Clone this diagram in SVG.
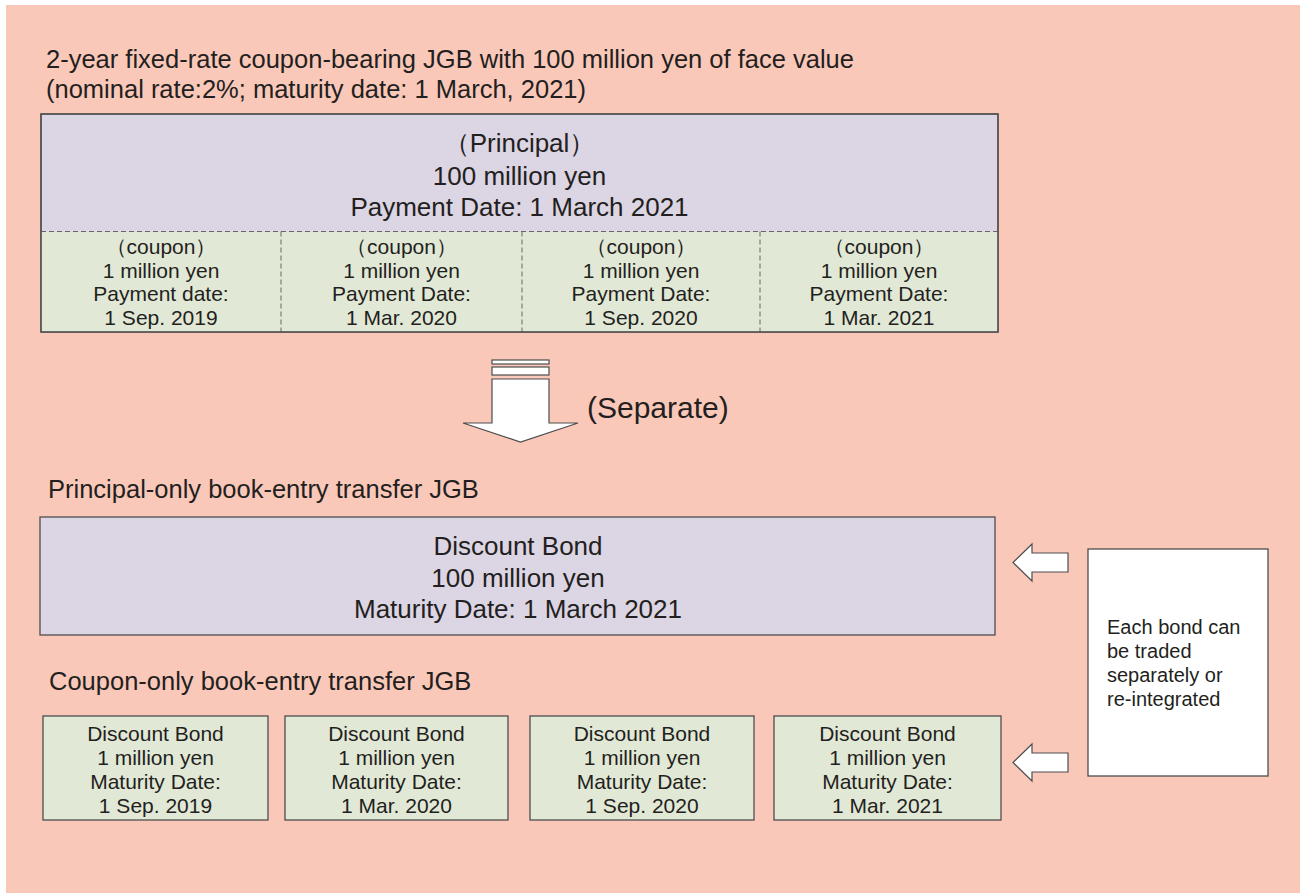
<svg xmlns="http://www.w3.org/2000/svg" width="1300" height="893" viewBox="0 0 1300 893">
<defs>
<style>
text{font-family:"Liberation Sans",Arial,sans-serif;fill:#231f20}
.c{text-anchor:middle}
.t25{font-size:25.5px}
.t26{font-size:26px}
.t21{font-size:21px}
.t20{font-size:20px}
.box{stroke:#4d4d4d;stroke-width:1.3}
.pur{fill:#dcd5e4}
.grn{fill:#e2e8d6}
.dash{stroke:#666;stroke-width:1;stroke-dasharray:5,3;fill:none}
.arr{fill:#fff;stroke:#4d4d4d;stroke-width:1.2}
</style>
</defs>
<rect x="0" y="0" width="1300" height="893" fill="#fff"/>
<rect x="6" y="5" width="1294" height="888" fill="#fac8b9"/>

<g id="title">
<text class="t25" x="46" y="68">2-year fixed-rate coupon-bearing JGB with 100 million yen of face value</text>
<text class="t25" x="46" y="98">(nominal rate:2%; maturity date: 1 March, 2021)</text>
</g>

<g id="coupon-bond">
<rect class="box pur" x="41" y="114" width="957" height="218"/>
<rect class="grn" x="41.7" y="231.5" width="955.6" height="99.8"/>
<line class="dash" x1="41" y1="231.5" x2="998" y2="231.5"/>
<line class="dash" x1="281" y1="231.5" x2="281" y2="332"/>
<line class="dash" x1="522" y1="231.5" x2="522" y2="332"/>
<line class="dash" x1="760" y1="231.5" x2="760" y2="332"/>
<rect x="41" y="114" width="957" height="218" fill="none" class="box"/>
<text class="t26 c" x="519.5" y="152">（Principal）</text>
<text class="t26 c" x="519.5" y="185">100 million yen</text>
<text class="t26 c" x="519.5" y="216">Payment Date: 1 March 2021</text>
<g class="t21">
<text class="c" x="161" y="254">（coupon）</text>
<text class="c" x="161" y="278">1 million yen</text>
<text class="c" x="161" y="301">Payment date:</text>
<text class="c" x="161" y="325">1 Sep. 2019</text>
<text class="c" x="401.5" y="254">（coupon）</text>
<text class="c" x="401.5" y="278">1 million yen</text>
<text class="c" x="401.5" y="301">Payment Date:</text>
<text class="c" x="401.5" y="325">1 Mar. 2020</text>
<text class="c" x="641" y="254">（coupon）</text>
<text class="c" x="641" y="278">1 million yen</text>
<text class="c" x="641" y="301">Payment Date:</text>
<text class="c" x="641" y="325">1 Sep. 2020</text>
<text class="c" x="879" y="254">（coupon）</text>
<text class="c" x="879" y="278">1 million yen</text>
<text class="c" x="879" y="301">Payment Date:</text>
<text class="c" x="879" y="325">1 Mar. 2021</text>
</g>
</g>

<g id="separate-arrow">
<rect class="arr" x="492" y="360" width="57" height="4"/>
<rect class="arr" x="492" y="367" width="57" height="8"/>
<path class="arr" d="M492,379 H549 V423 H578 L520.5,442 L463,423 H492 Z"/>
<text x="587" y="418" style="font-size:30px">(Separate)</text>
</g>

<g id="principal-only">
<text class="t25" x="48" y="498">Principal-only book-entry transfer JGB</text>
<rect class="box pur" x="40" y="517" width="955" height="118"/>
<text class="t26 c" x="518" y="555">Discount Bond</text>
<text class="t26 c" x="518" y="587">100 million yen</text>
<text class="t26 c" x="518" y="618">Maturity Date: 1 March 2021</text>
</g>

<g id="coupon-only">
<text class="t25" x="49" y="690">Coupon-only book-entry transfer JGB</text>
</g>
<g id="strip1">
<rect class="box grn" x="43" y="716" width="225" height="104"/>
<text class="t21 c" x="155.5" y="741">Discount Bond</text>
<text class="t21 c" x="155.5" y="765">1 million yen</text>
<text class="t21 c" x="155.5" y="789">Maturity Date:</text>
<text class="t21 c" x="155.5" y="813">1 Sep. 2019</text>
</g>
<g id="strip2">
<rect class="box grn" x="285" y="716" width="223" height="104"/>
<text class="t21 c" x="396.5" y="741">Discount Bond</text>
<text class="t21 c" x="396.5" y="765">1 million yen</text>
<text class="t21 c" x="396.5" y="789">Maturity Date:</text>
<text class="t21 c" x="396.5" y="813">1 Mar. 2020</text>
</g>
<g id="strip3">
<rect class="box grn" x="530" y="716" width="224" height="104"/>
<text class="t21 c" x="642" y="741">Discount Bond</text>
<text class="t21 c" x="642" y="765">1 million yen</text>
<text class="t21 c" x="642" y="789">Maturity Date:</text>
<text class="t21 c" x="642" y="813">1 Sep. 2020</text>
</g>
<g id="strip4">
<rect class="box grn" x="774" y="716" width="227" height="104"/>
<text class="t21 c" x="887.5" y="741">Discount Bond</text>
<text class="t21 c" x="887.5" y="765">1 million yen</text>
<text class="t21 c" x="887.5" y="789">Maturity Date:</text>
<text class="t21 c" x="887.5" y="813">1 Mar. 2021</text>
</g>

<g id="note">
<rect x="1088" y="549" width="180" height="227" fill="#fff" class="box"/>
<text class="t20" x="1107" y="634">Each bond can</text>
<text class="t20" x="1107" y="658">be traded</text>
<text class="t20" x="1107" y="682">separately or</text>
<text class="t20" x="1107" y="706">re-integrated</text>
</g>

<g id="connectors">
<path class="arr" d="M1068,553 V572 H1032 V581 L1013,562.5 L1032,544 V553 Z"/>
<path class="arr" d="M1068,753 V772 H1032 V781 L1013,762.5 L1032,744 V753 Z"/>
</g>
</svg>
